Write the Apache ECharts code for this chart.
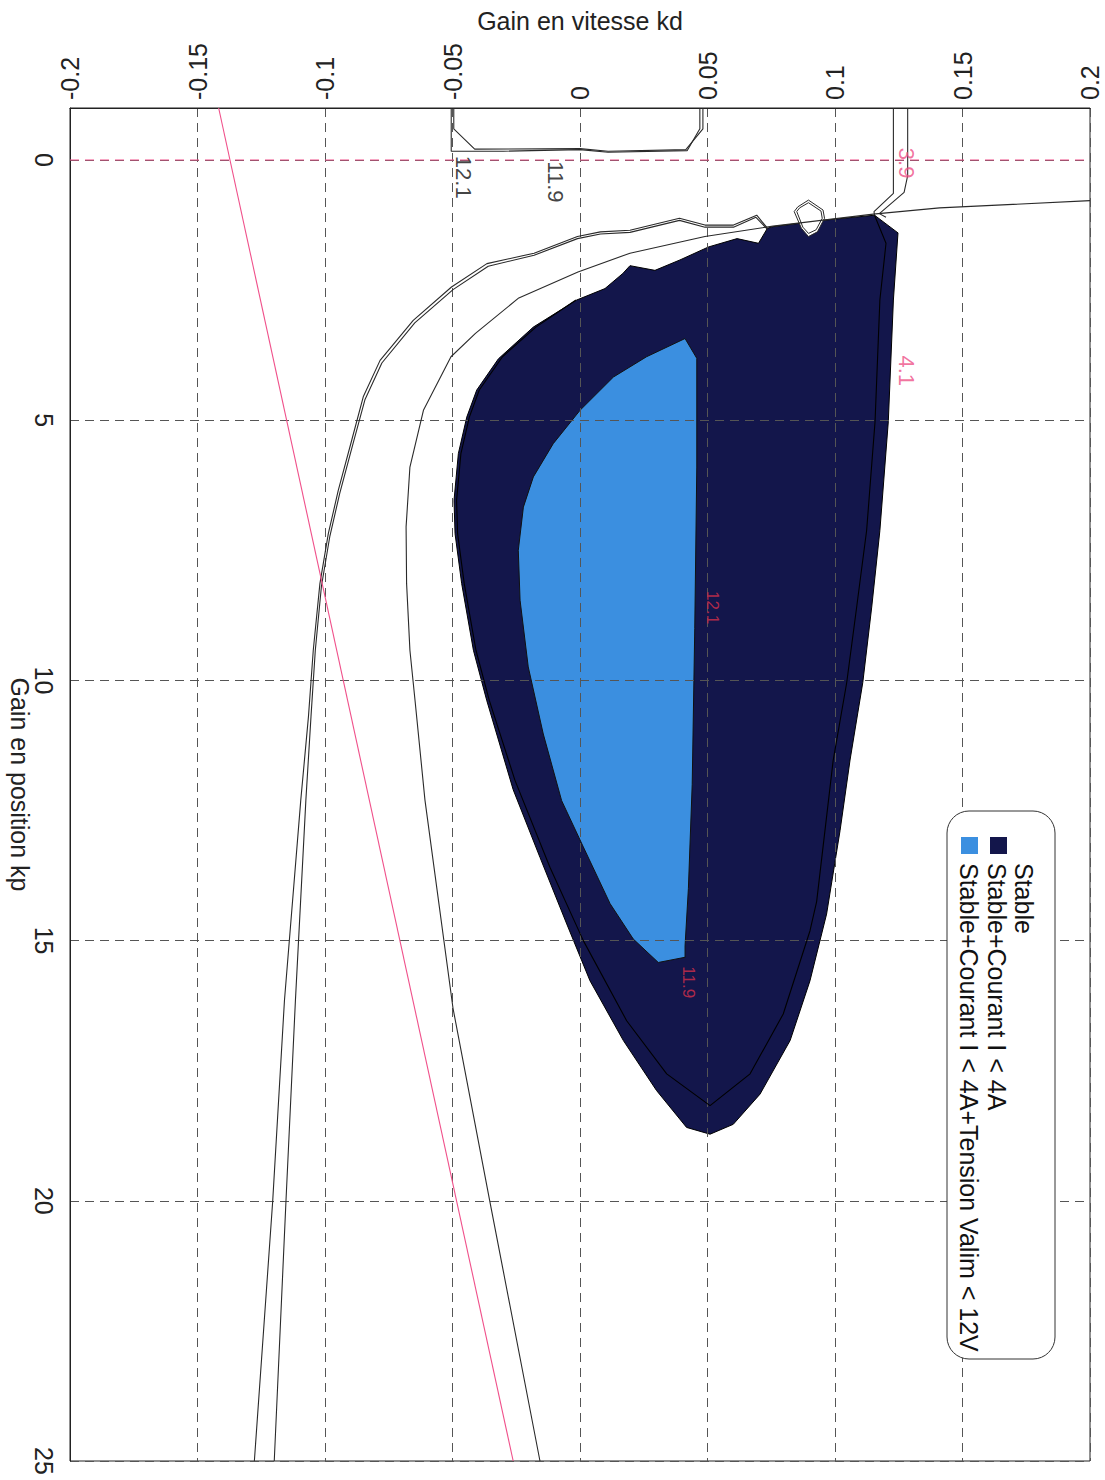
<!DOCTYPE html>
<html><head><meta charset="utf-8">
<script src="https://cdn.jsdelivr.net/npm/echarts@6/dist/echarts.min.js"></script>
<style>html,body{margin:0;padding:0;background:#fff}#c{width:1105px;height:1480px}</style>
</head><body><div id="c"></div>
<script>
// ---------- data (kd, kp) ----------
const kdRange = [-0.2, 0.2];
const kdStep = 0.05;
const kpRange = [-1, 25];
const kpTicks = [0, 5, 10, 15, 20, 25];

const darkRegion = [
  [0.1155,1.06],[0.1247,1.40],[0.1229,2.69],[0.1209,5.03],[0.1176,7.12],[0.1144,8.59],
  [0.1109,10.04],[0.1059,11.53],[0.1020,12.88],[0.0967,14.49],[0.0902,15.77],[0.0824,16.92],
  [0.0706,17.95],[0.0601,18.53],[0.0510,18.72],[0.0418,18.59],[0.0300,17.88],[0.0170,16.92],
  [0.0039,15.77],[-0.0052,14.68],[-0.0157,13.40],[-0.0262,12.10],[-0.0366,10.38],[-0.0418,9.42],
  [-0.0464,8.14],[-0.0490,7.18],[-0.0494,6.54],[-0.0477,5.64],[-0.0444,4.94],[-0.0405,4.42],
  [-0.0320,3.82],[-0.0183,3.21],[-0.0013,2.69],[0.0098,2.47],[0.0168,2.18],[0.0196,2.03],
  [0.0294,2.12],[0.0392,1.92],[0.0504,1.67],[0.0616,1.51],[0.0700,1.60],[0.0735,1.31],
  [0.0757,1.28],[0.0950,1.16]
];
const lightRegion = [
  [0.0412,3.43],[0.0458,3.81],[0.0458,5.90],[0.0450,9.00],[0.0440,12.00],[0.0425,14.00],
  [0.0412,15.10],[0.0412,15.32],[0.0307,15.42],[0.0209,14.97],[0.0118,14.29],[0.0013,13.20],
  [-0.0072,12.31],[-0.0144,11.03],[-0.0203,9.74],[-0.0235,8.46],[-0.0242,7.50],[-0.0222,6.67],
  [-0.0183,6.09],[-0.0105,5.45],[0.0000,4.81],[0.0131,4.17],[0.0261,3.78]
];
const holeRegion = [
  [0.0896,0.77],[0.0953,0.96],[0.0959,1.12],[0.0931,1.38],[0.0896,1.47],[0.0868,1.31],
  [0.0840,0.99],[0.0854,0.90],[0.0896,0.77]
];
const holeInner = [
  [0.0896,0.82],[0.0945,0.98],[0.0950,1.12],[0.0926,1.34],[0.0896,1.41],[0.0874,1.29],
  [0.0850,0.99],[0.0861,0.92],[0.0896,0.82]
];
const stableLine = [
  [0.2000,0.78],[0.1410,0.92],[0.1150,1.04],[0.0757,1.27],[0.0490,1.47],[0.0196,1.79],
  [-0.0008,2.15],[-0.0240,2.65],[-0.0410,3.33],[-0.0506,3.78],[-0.0614,4.81],[-0.0667,5.90],
  [-0.0682,7.05],[-0.0680,8.14],[-0.0667,9.42],[-0.0647,10.38],[-0.0608,12.30],[-0.0498,16.30],
  [-0.0354,20.00],[-0.0157,25.00]
];
const voltLeftA = [
  [0.0735,1.31],[0.0693,1.06],[0.0602,1.25],[0.0490,1.25],[0.0390,1.12],[0.0196,1.35],
  [0.0080,1.38],[-0.0010,1.47],[-0.0180,1.79],[-0.0365,1.99],[-0.0504,2.44],[-0.0654,3.08],
  [-0.0784,3.85],[-0.0850,4.55],[-0.0895,5.38],[-0.0948,6.35],[-0.0987,7.18],[-0.1020,8.14],
  [-0.1046,9.42],[-0.1065,10.70],[-0.1095,12.30],[-0.1159,16.15],[-0.1205,20.00],[-0.1277,25.00]
];
const voltLeftB = [
  [0.0735,1.33],[0.0690,1.10],[0.0602,1.29],[0.0490,1.29],[0.0390,1.16],[0.0196,1.39],
  [0.0080,1.42],[-0.0010,1.51],[-0.0180,1.83],[-0.0360,2.04],[-0.0498,2.49],[-0.0648,3.13],
  [-0.0777,3.90],[-0.0843,4.60],[-0.0889,5.43],[-0.0942,6.40],[-0.0981,7.23],[-0.1014,8.19],
  [-0.1038,9.42],[-0.1055,10.70],[-0.1075,12.30],[-0.1116,16.15],[-0.1153,20.00],[-0.1199,25.00]
];
const voltTopA = [
  [-0.0505,-1],[-0.0505,-0.17],[-0.0300,-0.17],[0.0000,-0.20],[0.0110,-0.15],[0.0420,-0.18],
  [0.0470,-0.60],[0.0470,-1]
];
const voltTopB = [
  [-0.0495,-1],[-0.0495,-0.60],[-0.0413,-0.21],[0.0000,-0.22],[0.0110,-0.17],[0.0415,-0.20],
  [0.0482,-0.60],[0.0482,-1]
];
const currTopA = [[0.1229,-1],[0.1229,0.64],[0.1153,0.99],[0.1155,1.06]];
const currTopB = [[0.1285,-1],[0.1285,0.30],[0.1271,0.62],[0.1174,1.03],[0.1200,1.10]];
const currInner = [
  [0.1155,1.06],[0.1200,1.60],[0.1176,2.69],[0.1157,5.03],[0.1124,7.12],[0.1085,8.59],
  [0.1046,10.04],[0.0993,11.53],[0.0928,14.25],[0.0902,14.81],[0.0797,16.41],[0.0667,17.56],
  [0.0510,18.17],[0.0340,17.56],[0.0183,16.54],[0.0013,15.00],[-0.0118,13.59],[-0.0255,11.92],
  [-0.0356,10.38],[-0.0408,9.42],[-0.0454,8.14],[-0.0480,7.18],[-0.0484,6.54],[-0.0467,5.64],
  [-0.0434,4.94],[-0.0395,4.42],[-0.0304,3.78],[-0.0173,3.21],[-0.0016,2.69]
];
const pinkLine = [[-0.1417,-1],[-0.0262,25]];
const pinkZero = [[-0.2,0],[0.2,0]];
const labelsBlack = [[-0.0455,0.33,'12.1'],[-0.0098,0.42,'11.9']];
const labelsPink = [[0.1280,0.06,'3.9'],[0.1280,4.05,'4.1']];
const labelsRed = [[0.0518,8.60,'12.1'],[0.0424,15.80,'11.9']];
const legendNames = ['Stable','Stable+Courant I < 4A','Stable+Courant I < 4A+Tension Valim < 12V'];
const axisNames = ['Gain en vitesse kd','Gain en position kp'];

// ---------- styles ----------
const FONT = 'Liberation Sans, Arial, Helvetica, sans-serif';
const DARK = '#13164b';
const LIGHT = '#3b8fe0';
const PINK = '#f0508a';
const LINE = '#2a2a2a';

function polySeries(points, fill, stroke, z) {
  return {
    type: 'custom', coordinateSystem: 'cartesian2d', z: z, silent: true, animation: false,
    data: [[0, 0]],
    renderItem: function (params, api) {
      return { type: 'polygon', shape: { points: points.map(p => api.coord(p)) },
               style: { fill: fill, stroke: stroke, lineWidth: 1 } };
    }
  };
}
function lineSeries(points, color, width, type) {
  return {
    type: 'line', data: points, showSymbol: false, symbol: 'none', silent: true, animation: false,
    lineStyle: { color: color, width: width, type: type || 'solid' }, z: 3
  };
}
function labelSeries(items, color, size) {
  return {
    type: 'scatter', symbolSize: 0, silent: true, animation: false, z: 4,
    data: items.map(d => ({ value: [d[0], d[1]], name: d[2] })),
    label: { show: true, position: 'inside', rotate: -90, formatter: '{b}',
             color: color, fontSize: size, fontFamily: FONT }
  };
}

const chart = echarts.init(document.getElementById('c'), null, { renderer: 'svg' });

const LZ = 100;
const legendGroup = {
  type: 'group', x: 1055, y: 811, rotation: -Math.PI / 2, z: LZ,
  children: [
    { type: 'rect', z: LZ, shape: { x: 0, y: 0, width: 548, height: 108, r: 22 },
      style: { fill: '#fff', stroke: '#333', lineWidth: 1 } },
    { type: 'rect', z: LZ + 1, shape: { x: 26, y: 48, width: 17, height: 17 }, style: { fill: DARK } },
    { type: 'rect', z: LZ + 1, shape: { x: 26, y: 77, width: 17, height: 17 }, style: { fill: LIGHT } },
    { type: 'text', z: LZ + 1, x: 52, y: 31, style: { text: legendNames[0], fontSize: 25, fontFamily: FONT, fill: '#111', verticalAlign: 'middle' } },
    { type: 'text', z: LZ + 1, x: 52, y: 58, style: { text: legendNames[1], fontSize: 25, fontFamily: FONT, fill: '#111', verticalAlign: 'middle' } },
    { type: 'text', z: LZ + 1, x: 52, y: 86, style: { text: legendNames[2], fontSize: 25, fontFamily: FONT, fill: '#111', verticalAlign: 'middle' } }
  ]
};

chart.setOption({
  backgroundColor: '#fff',
  animation: false,
  grid: { left: 70, right: 15, top: 108, bottom: 19, show: true, containLabel: false,
          outerBoundsMode: 'none',
          backgroundColor: 'transparent', borderColor: '#222', borderWidth: 1 },
  xAxis: {
    type: 'value', position: 'top', min: kdRange[0], max: kdRange[1], interval: kdStep,
    name: axisNames[0], nameLocation: 'middle', nameGap: 75, nameMoveOverlap: false,
    nameTextStyle: { fontSize: 25, fontFamily: FONT, color: '#222' },
    axisLine: { onZero: false, lineStyle: { color: '#222' } },
    axisTick: { show: false },
    axisLabel: { rotate: -90, fontSize: 25, fontFamily: FONT, color: '#222', margin: 8 },
    splitLine: { show: true, lineStyle: { color: '#555', width: 1, type: [9, 6] } }
  },
  yAxis: {
    type: 'value', inverse: true, min: kpRange[0], max: kpRange[1],
    name: axisNames[1], nameLocation: 'middle', nameGap: 38, nameRotate: -90, nameMoveOverlap: false,
    nameTextStyle: { fontSize: 25, fontFamily: FONT, color: '#222' },
    axisLine: { onZero: false, lineStyle: { color: '#222' } },
    axisTick: { show: false, customValues: kpTicks },
    axisLabel: { rotate: -90, fontSize: 25, fontFamily: FONT, color: '#222', margin: 14, customValues: kpTicks },
    splitLine: { show: true, lineStyle: { color: '#555', width: 1, type: [9, 6] } }
  },
  graphic: [legendGroup],
  series: [
    polySeries(darkRegion, DARK, '#000', -2),
    polySeries(lightRegion, LIGHT, '#111', -1),
    polySeries(holeRegion, '#fff', LINE, 3),
    lineSeries(holeInner, LINE, 1),
    lineSeries(stableLine, LINE, 1.1),
    lineSeries(voltLeftA, LINE, 1.1),
    lineSeries(voltLeftB, LINE, 1.1),
    lineSeries(voltTopA, LINE, 1.1),
    lineSeries(voltTopB, LINE, 1.1),
    lineSeries(currTopA, LINE, 1.1),
    lineSeries(currTopB, LINE, 1.1),
    lineSeries(currInner, '#000', 1.1),
    lineSeries(pinkLine, PINK, 1.1),
    lineSeries(pinkZero, PINK, 1.1, [9, 6]),
    labelSeries(labelsBlack, '#111', 22),
    labelSeries(labelsPink, '#ee4f86', 22),
    labelSeries(labelsRed, '#d8304a', 17)
  ]
});
</script>
</body></html>
